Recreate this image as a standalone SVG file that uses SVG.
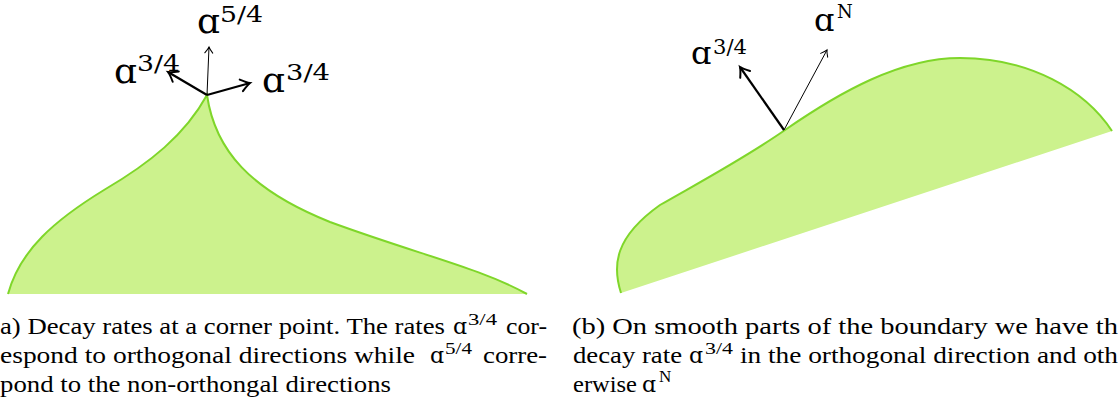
<svg xmlns="http://www.w3.org/2000/svg" width="1118" height="409" viewBox="0 0 1118 409">
<defs>
<style>
.region{fill:#ccf28d;stroke:none}
.edge{fill:none;stroke:#7fd62a;stroke-width:2}
.thick{stroke:#000;stroke-width:2.2;fill:none}
.thin{stroke:#000;stroke-width:1;fill:none}
.lbl{font-family:"DejaVu Serif","Liberation Serif",serif;fill:#000}
.cap{font-family:"Liberation Serif","DejaVu Serif",serif;font-size:24px;fill:#000}
.capa{font-family:"DejaVu Serif","Liberation Serif",serif;font-size:22px;fill:#000}
.capsup{font-family:"Liberation Serif","DejaVu Serif",serif;font-size:17px;fill:#000}
</style>
<marker id="headThick" markerUnits="userSpaceOnUse" markerWidth="20" markerHeight="20" refX="0" refY="0" orient="auto" overflow="visible">
<path d="M-9,-6 Q-3,-1.2 0,0 Q-3,1.2 -9,6" fill="none" stroke="#000" stroke-width="2" stroke-linecap="round"/>
</marker>
<marker id="headThin" markerUnits="userSpaceOnUse" markerWidth="20" markerHeight="20" refX="0" refY="0" orient="auto" overflow="visible">
<path d="M-6,-4 Q-2,-0.8 0,0 Q-2,0.8 -6,4" fill="none" stroke="#000" stroke-width="1" stroke-linecap="round"/>
</marker>
</defs>

<g id="figure-a">
<g id="corner-domain">
<path class="region" d="M207 95 C185 135,150 163,104 190 C55 220,20 250,8 294 L527 294 C480 268,420 255,330 222 C250 190,215 150,207 95 Z"/>
<path class="edge" d="M8 294 C20 250,55 220,104 190 C150 163,185 135,207 95 C215 150,250 190,330 222 C420 255,480 268,527 294"/>
</g>
<g id="corner-arrows">
<line class="thin" x1="207" y1="95" x2="209" y2="47" marker-end="url(#headThin)"/>
<line class="thick" x1="207" y1="95" x2="168" y2="72" marker-end="url(#headThick)"/>
<line class="thick" x1="207" y1="95" x2="250" y2="83" marker-end="url(#headThick)"/>
</g>
<g id="corner-labels">
<text class="lbl" x="197" y="33" font-size="36">ɑ</text>
<text class="lbl" x="220" y="22" font-size="23" textLength="43" lengthAdjust="spacingAndGlyphs">5/4</text>
<text class="lbl" x="114" y="83" font-size="36">ɑ</text>
<text class="lbl" x="137" y="71" font-size="23" textLength="43" lengthAdjust="spacingAndGlyphs">3/4</text>
<text class="lbl" x="262" y="92" font-size="36">ɑ</text>
<text class="lbl" x="286" y="80" font-size="23" textLength="44" lengthAdjust="spacingAndGlyphs">3/4</text>
</g>
<g id="caption-a">
<text class="cap" x="0" y="334" textLength="445" lengthAdjust="spacingAndGlyphs">a) Decay rates at a corner point. The rates</text>
<text class="capa" x="453" y="334">ɑ</text>
<text class="capsup" x="468" y="325" textLength="29" lengthAdjust="spacingAndGlyphs">3/4</text>
<text class="cap" x="506" y="334" textLength="41" lengthAdjust="spacingAndGlyphs">cor-</text>
<text class="cap" x="0" y="363" textLength="415" lengthAdjust="spacingAndGlyphs">espond to orthogonal directions while</text>
<text class="capa" x="430" y="363">ɑ</text>
<text class="capsup" x="445" y="354" textLength="27" lengthAdjust="spacingAndGlyphs">5/4</text>
<text class="cap" x="483" y="363" textLength="64" lengthAdjust="spacingAndGlyphs">corre-</text>
<text class="cap" x="0" y="392" textLength="391" lengthAdjust="spacingAndGlyphs">pond to the non-orthongal directions</text>
</g>
</g>

<g id="figure-b">
<g id="smooth-domain">
<path class="region" d="M621 293 C612 265,615 237,660 205 C700 182,745 158,785 130 C840 92,900 58,960 58 C1030 58,1085 90,1112 131 Z"/>
<path class="edge" d="M621 293 C612 265,615 237,660 205 C700 182,745 158,785 130 C840 92,900 58,960 58 C1030 58,1085 90,1112 131"/>
</g>
<g id="smooth-arrows">
<line class="thick" x1="784" y1="130" x2="740" y2="67" marker-end="url(#headThick)"/>
<line class="thin" x1="784" y1="130" x2="827" y2="50" marker-end="url(#headThin)"/>
</g>
<g id="smooth-labels">
<text class="lbl" x="691" y="64" font-size="32">ɑ</text>
<text class="lbl" x="713" y="54" font-size="20" textLength="34" lengthAdjust="spacingAndGlyphs">3/4</text>
<text class="lbl" x="814" y="31" font-size="32">ɑ</text>
<text class="lbl" x="837" y="18" font-size="18">N</text>
</g>
<g id="caption-b">
<text class="cap" x="572" y="334" textLength="546" lengthAdjust="spacingAndGlyphs">(b) On smooth parts of the boundary we have th</text>
<text class="cap" x="573" y="363" textLength="109" lengthAdjust="spacingAndGlyphs">decay rate</text>
<text class="capa" x="689" y="363">ɑ</text>
<text class="capsup" x="705" y="354" textLength="28" lengthAdjust="spacingAndGlyphs">3/4</text>
<text class="cap" x="740" y="363" textLength="378" lengthAdjust="spacingAndGlyphs">in the orthogonal direction and oth</text>
<text class="cap" x="573" y="392" textLength="64" lengthAdjust="spacingAndGlyphs">erwise</text>
<text class="capa" x="642" y="392">ɑ</text>
<text class="capsup" x="659" y="382">N</text>
</g>
</g>
</svg>
